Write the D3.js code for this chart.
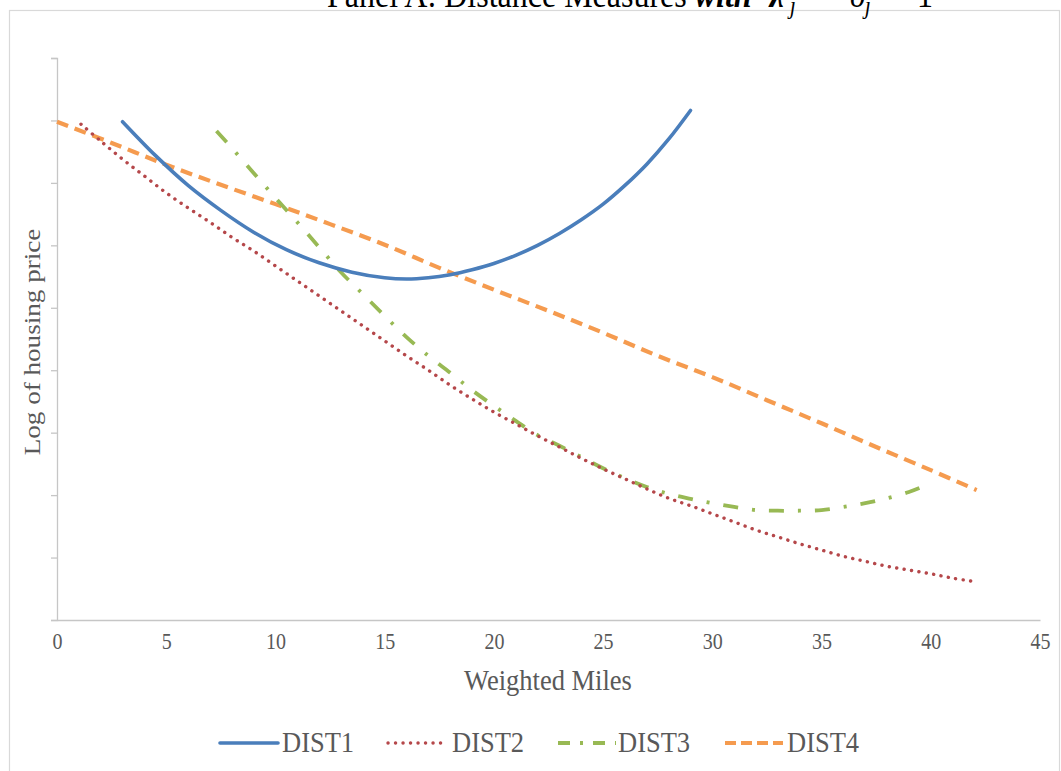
<!DOCTYPE html>
<html>
<head>
<meta charset="utf-8">
<script src="https://cdn.jsdelivr.net/npm/d3@7"></script>
<style>
  html, body { margin: 0; padding: 0; background: #fff; }
  svg { display: block; }
  text { font-family: "Liberation Serif", "Times New Roman", serif; }
</style>
</head>
<body>
<svg id="chart" width="1061" height="771"></svg>
<script>
// ---- data (x = weighted miles, y = log housing price, arbitrary units; axis unlabeled) ----
const seriesNames = ["DIST1", "DIST2", "DIST3", "DIST4"];

const dist1X = [3, 4.5, 6, 7.5, 9, 10.5, 12, 13.5, 15, 16, 17, 18, 19, 20, 21, 22, 23, 24, 25, 26, 27, 28, 29];
const dist1Y = [79.8, 74.4, 69.6, 65.6, 62.1, 59.3, 57.2, 55.7, 54.8, 54.6, 54.8, 55.3, 56.1, 57.1, 58.4, 60.0, 61.9, 64.1, 66.6, 69.6, 73.0, 77.0, 81.6];

const dist2X = [1.1, 2, 3, 4, 5, 6, 7, 8, 9, 10, 11, 12, 13, 14, 15, 16, 17, 18, 19, 20, 21, 22, 23, 24, 25, 26, 27, 28, 29, 30, 31, 32, 33, 34, 35, 36, 37, 38, 39, 40, 41, 42.1];
const dist2Y = [79.4, 76.7, 73.8, 71.1, 68.4, 66.0, 63.7, 61.3, 59.1, 56.7, 54.3, 51.9, 49.5, 47.1, 44.7, 42.3, 40.0, 37.6, 35.4, 33.3, 31.4, 29.5, 27.7, 25.9, 24.2, 22.6, 21.0, 19.5, 18.3, 17.0, 15.7, 14.4, 13.3, 12.2, 11.2, 10.2, 9.4, 8.6, 8.0, 7.4, 6.7, 6.1];

const dist3X = [7.3, 8, 9, 10, 11, 12, 13, 14, 15, 16, 17, 18, 19, 20, 21, 22, 23, 24, 25, 26, 27, 28, 29, 30, 31, 32, 33, 34, 35, 36, 37, 38, 39, 39.6];
const dist3Y = [78.3, 75.6, 71.6, 67.6, 63.7, 59.7, 55.7, 52.2, 48.7, 45.3, 42.3, 39.6, 36.8, 34.3, 31.9, 29.6, 27.9, 26.1, 24.3, 22.7, 21.3, 20.2, 19.4, 18.7, 18.1, 17.6, 17.5, 17.5, 17.6, 18.1, 18.7, 19.5, 20.5, 21.3];

const dist4X = [0, 2.5, 5, 7.5, 10, 12.5, 15, 17.5, 20, 22.5, 25, 27.5, 30, 32.5, 35, 37.5, 40, 42.1];
const dist4Y = [79.8, 76.4, 72.9, 69.7, 66.6, 63.4, 60.1, 56.4, 52.9, 49.5, 46.0, 42.3, 38.9, 35.2, 31.5, 27.7, 24.0, 20.8];

const xTicks = [0, 5, 10, 15, 20, 25, 30, 35, 40, 45];
const yTicks = [0, 10, 20, 30, 40, 50, 60, 70, 80, 90];

const xLabel = "Weighted Miles";
const yLabel = "Log of housing price";

// ---- styles ----
const styles = [
  { color: "#4a7ebb", width: 3.6, dash: null, cap: "round" },
  { color: "#b5474a", width: 3.4, dash: "0.1,7.4", cap: "round" },
  { color: "#98b954", width: 3.8, dash: "15,14,3,14", cap: "butt" },
  { color: "#f59b4f", width: 4.2, dash: "12,7", cap: "butt" }
];
const legendDash = [null, "0.1,7.4", "12,10,3,10", "11,5"];

const series = [
  dist1X.map((x, i) => ({ x, y: dist1Y[i] })),
  dist2X.map((x, i) => ({ x, y: dist2Y[i] })),
  dist3X.map((x, i) => ({ x, y: dist3Y[i] })),
  dist4X.map((x, i) => ({ x, y: dist4Y[i] }))
];

const svg = d3.select("#chart");
const VS = 1.13; // vertical stretch of the original text

// outer border
svg.append("rect")
  .attr("x", 9.5).attr("y", 10.5)
  .attr("width", 1050).attr("height", 790)
  .attr("fill", "none").attr("stroke", "#d9d9d9").attr("stroke-width", 1.2);

// title (cut off at the top edge, as in the original)
const title = svg.append("text")
  .attr("transform", `translate(327,7) scale(1,${VS})`)
  .attr("font-size", 32).attr("fill", "#000");
title.append("tspan").text("Panel A: Distance Measures ");
title.append("tspan").attr("font-weight", "bold").attr("font-style", "italic").text("with");
title.append("tspan").attr("font-weight", "bold").attr("font-style", "italic").attr("dx", 18).text("λ");
title.append("tspan").attr("font-style", "italic").attr("font-size", 22).attr("dx", 6).attr("dy", 6).text("j");
title.append("tspan").attr("dy", -6).attr("dx", 10).text(" = ");
title.append("tspan").attr("font-style", "italic").attr("dx", 10).text("δ");
title.append("tspan").attr("font-style", "italic").attr("font-size", 22).attr("dy", 6).text("j");
title.append("tspan").attr("dy", -6).attr("dx", 12).text(" = 1");

const x = d3.scaleLinear().domain([0, 45]).range([57, 1040]);
const y = d3.scaleLinear().domain([0, 90]).range([620, 58]);

// y axis
const yAxis = svg.append("g")
  .attr("transform", `translate(${x(0)},0)`)
  .call(d3.axisLeft(y).tickValues(yTicks).tickSize(6).tickFormat(""));
yAxis.select(".domain").attr("stroke", "#c6c6c6").attr("stroke-width", 1.3);
yAxis.selectAll(".tick line").attr("stroke", "#c6c6c6").attr("stroke-width", 1.3);

// x axis
const xAxis = svg.append("g")
  .attr("transform", `translate(0,${y(0)})`)
  .call(d3.axisBottom(x).tickValues(xTicks).tickSize(0).tickPadding(0));
xAxis.select(".domain").attr("stroke", "#c6c6c6").attr("stroke-width", 1.3);
xAxis.selectAll(".tick text")
  .attr("font-family", "Liberation Serif, serif")
  .attr("font-size", 20)
  .attr("fill", "#595959")
  .attr("dy", 0)
  .attr("y", 0)
  .attr("transform", `translate(0,29) scale(1,${VS})`);

// axis titles
svg.append("text")
  .attr("transform", `translate(548,690) scale(1,${VS})`)
  .attr("text-anchor", "middle")
  .attr("font-size", 26.5).attr("fill", "#595959")
  .text(xLabel);

svg.append("text")
  .attr("transform", `translate(40,342) rotate(-90) scale(${VS},1)`)
  .attr("text-anchor", "middle")
  .attr("font-size", 24).attr("fill", "#595959")
  .text(yLabel);

// lines
const line = d3.line()
  .x(d => x(d.x)).y(d => y(d.y))
  .curve(d3.curveCatmullRom.alpha(0.5));

const order = [3, 2, 1, 0];
order.forEach(i => {
  svg.append("path")
    .datum(series[i])
    .attr("d", line)
    .attr("fill", "none")
    .attr("stroke", styles[i].color)
    .attr("stroke-width", styles[i].width)
    .attr("stroke-linecap", styles[i].cap)
    .attr("stroke-dasharray", styles[i].dash);
});

// legend
const legendItems = [
  { x1: 220, x2: 278, tx: 282 },
  { x1: 388, x2: 442, tx: 452 },
  { x1: 558, x2: 616, tx: 618 },
  { x1: 725, x2: 783, tx: 787 }
];
const legY = 743;
seriesNames.forEach((name, i) => {
  const it = legendItems[i];
  svg.append("line")
    .attr("x1", it.x1).attr("x2", it.x2)
    .attr("y1", legY).attr("y2", legY)
    .attr("stroke", styles[i].color)
    .attr("stroke-width", styles[i].width)
    .attr("stroke-linecap", styles[i].cap)
    .attr("stroke-dasharray", legendDash[i]);
  svg.append("text")
    .attr("transform", `translate(${it.tx},752) scale(1,${VS})`)
    .attr("font-size", 26.5).attr("fill", "#595959")
    .text(name);
});
</script>
</body>
</html>
